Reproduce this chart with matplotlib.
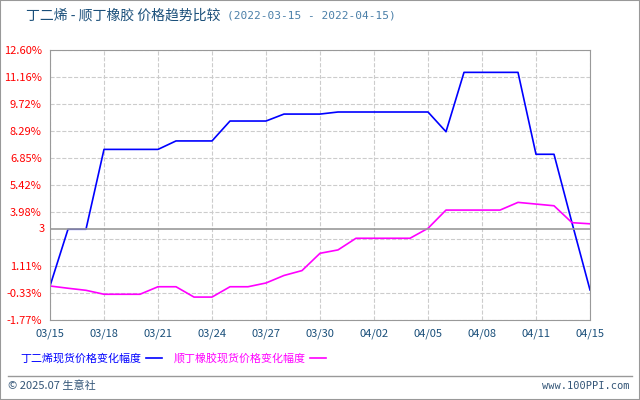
import matplotlib
matplotlib.use("Agg")
import matplotlib.pyplot as plt
from matplotlib.lines import Line2D

plt.rcParams['font.family'] = ['Noto Sans CJK SC', 'DejaVu Sans']

# x positions are trading days; labels every 3rd point
tick_labels = ['03/15', '03/18', '03/21', '03/24', '03/27', '03/30',
               '04/02', '04/05', '04/08', '04/11', '04/15']
butadiene = [0.04, 3.06, 3.06, 7.31, 7.31, 7.31, 7.31, 7.76, 7.76, 7.76,
             8.82, 8.82, 8.82, 9.19, 9.19, 9.19, 9.30, 9.30, 9.30, 9.30,
             9.30, 9.30, 8.25, 11.41, 11.41, 11.41, 11.41, 7.05, 7.05, 3.4,
             -0.17]
rubber = [0.04, -0.08, -0.19, -0.40, -0.40, -0.40, 0.0, 0.0, -0.55, -0.55,
          0.0, 0.0, 0.2, 0.6, 0.86, 1.78, 1.96, 2.58, 2.58, 2.58,
          2.58, 3.11, 4.08, 4.08, 4.08, 4.08, 4.49, 4.40, 4.31, 3.41,
          3.35]
y_ticks = [12.60, 11.16, 9.72, 8.29, 6.85, 5.42, 3.98, 2.54, 1.11, -0.33, -1.77]
y_labels = ['12.60%', '11.16%', '9.72%', '8.29%', '6.85%', '5.42%', '3.98%',
            '', '1.11%', '-0.33%', '-1.77%']
base_value = 3.06

fig = plt.figure(figsize=(6.4, 4), dpi=100)
ax = fig.add_axes([50 / 640, 80 / 400, 540 / 640, 270 / 400])

x = list(range(len(butadiene)))
ax.plot(x, butadiene, color='#0000ff', lw=1.2)
ax.plot(x, rubber, color='#ff00ff', lw=1.2)
ax.axhline(base_value, color='#999999', lw=1.2)

ax.set_xlim(0, len(x) - 1)
ax.set_ylim(y_ticks[-1], y_ticks[0])
ax.set_yticks(y_ticks)
ax.set_yticklabels(y_labels, color='#ff0000', fontsize=8)
ax.set_xticks(x[::3])
ax.set_xticklabels(tick_labels, color='#1a4f7a', fontsize=8)
ax.tick_params(length=0, pad=6)
ax.text(-0.01, base_value, '3', transform=ax.get_yaxis_transform(),
        ha='right', va='center', color='#ff0000', fontsize=8)
ax.grid(True, color='#cccccc', ls='--', lw=0.8)
for s in ax.spines.values():
    s.set_color('#999999')

fig.text(26 / 640, 1 - 16 / 400, '丁二烯 - 顺丁橡胶 价格趋势比较', color='#1a4f7a',
         fontsize=10, va='center')
fig.text(227 / 640, 1 - 16 / 400, '(2022-03-15 - 2022-04-15)', color='#4a7fa8',
         fontsize=8, va='center', family='DejaVu Sans Mono')

# legend
fig.text(20 / 640, 1 - 358 / 400, '丁二烯现货价格变化幅度', color='#0000ff',
         fontsize=7.9, va='center')
fig.add_artist(Line2D([146 / 640, 162 / 640], [1 - 358 / 400] * 2,
                      color='#0000ff', lw=1.2))
fig.text(174 / 640, 1 - 358 / 400, '顺丁橡胶现货价格变化幅度', color='#ff00ff',
         fontsize=7.9, va='center')
fig.add_artist(Line2D([310 / 640, 326 / 640], [1 - 358 / 400] * 2,
                      color='#ff00ff', lw=1.2))

# footer
fig.add_artist(Line2D([8 / 640, 632 / 640], [1 - 376 / 400] * 2,
                      color='#999999', lw=1))
fig.text(8 / 640, 1 - 386 / 400, '© 2025.07 生意社', color='#335577',
         fontsize=8, va='center')
fig.text(630 / 640, 1 - 386 / 400, 'www.100PPI.com', color='#335577',
         fontsize=7.5, va='center', ha='right', family='DejaVu Sans Mono')
fig.add_artist(plt.Rectangle((0, 0), 1, 1, transform=fig.transFigure,
                             fill=False, edgecolor='#999999', lw=1.5))

fig.savefig('out.png', dpi=100)
